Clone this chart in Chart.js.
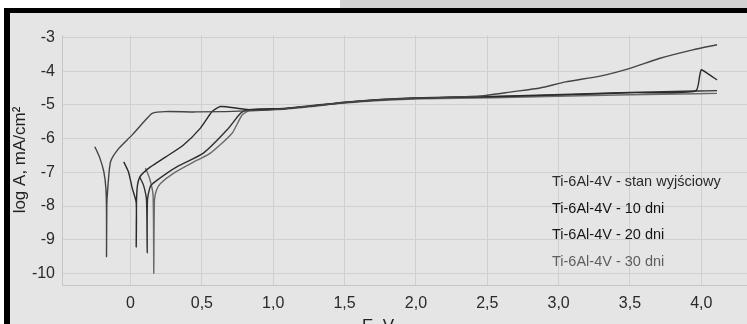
<!DOCTYPE html>
<html>
<head>
<meta charset="utf-8">
<script src="https://cdn.jsdelivr.net/npm/chart.js@4/dist/chart.umd.min.js"></script>
<style>
  html, body { margin: 0; padding: 0; background: #fff; overflow: hidden; }
  #pasek { position: absolute; left: 340px; top: 0; width: 407px; height: 8px; background: #d2d2d2; }
  #ramka { position: absolute; left: 4px; top: 8px; width: 743px; height: 330px;
           border-top: 5px solid #000; border-left: 6px solid #000; background: #e5e5e5; }
  #wykres { position: absolute; left: 0; top: 0; }
</style>
</head>
<body>
<div id="pasek"></div>
<div id="ramka"><canvas id="wykres" width="737" height="340"></canvas></div>
<script>
// dane (E w V, log A)
var serie = ['Ti-6Al-4V - stan wyjściowy', 'Ti-6Al-4V - 10 dni', 'Ti-6Al-4V - 20 dni', 'Ti-6Al-4V - 30 dni'];

var e_stan = [-0.25, -0.217, -0.187, -0.172, -0.168, -0.168, -0.166, -0.161, -0.14, -0.082, 0.012, 0.105, 0.152, 0.245, 0.455, 0.84, 1.07, 1.5, 1.75, 2.05, 2.45, 2.68, 2.87, 3.05, 3.29, 3.5, 3.71, 3.94, 4.11];
var a_stan = [-6.24, -6.55, -6.98, -7.5, -8.2, -9.5, -8.0, -7.58, -6.69, -6.29, -5.89, -5.45, -5.25, -5.20, -5.21, -5.18, -5.12, -4.93, -4.85, -4.80, -4.74, -4.61, -4.50, -4.32, -4.15, -3.92, -3.62, -3.37, -3.22];

var e_10 = [-0.047, -0.014, 0.012, 0.04, 0.04, 0.042, 0.049, 0.07, 0.14, 0.245, 0.371, 0.49, 0.572, 0.63, 0.747, 0.84, 1.07, 1.5, 1.75, 2.05, 2.54, 3.15, 3.5, 3.96, 3.99, 4.0, 4.04, 4.11];
var a_10 = [-6.69, -6.99, -7.47, -7.9, -9.21, -7.9, -7.38, -7.11, -6.84, -6.55, -6.19, -5.69, -5.20, -5.05, -5.10, -5.15, -5.12, -4.93, -4.85, -4.80, -4.76, -4.69, -4.64, -4.59, -4.1, -3.96, -4.06, -4.26];

var e_20 = [0.063, 0.091, 0.112, 0.117, 0.119, 0.14, 0.187, 0.327, 0.511, 0.677, 0.771, 0.817, 0.91, 1.07, 1.5, 1.75, 2.05, 2.54, 3.15, 3.5, 3.96, 4.11];
var a_20 = [-7.13, -7.38, -7.82, -9.39, -7.82, -7.41, -7.23, -6.83, -6.43, -5.74, -5.25, -5.15, -5.12, -5.11, -4.92, -4.84, -4.79, -4.75, -4.68, -4.63, -4.59, -4.58];

var e_30 = [0.105, 0.133, 0.158, 0.163, 0.168, 0.182, 0.21, 0.301, 0.467, 0.56, 0.712, 0.782, 0.841, 0.946, 1.07, 1.5, 1.75, 2.05, 2.54, 3.15, 3.5, 3.96, 4.11];
var a_30 = [-6.87, -7.17, -7.67, -9.99, -7.82, -7.53, -7.33, -7.03, -6.64, -6.43, -5.84, -5.30, -5.15, -5.14, -5.13, -4.95, -4.87, -4.82, -4.79, -4.73, -4.70, -4.67, -4.66];

var xTicks = [0, 0.5, 1.0, 1.5, 2.0, 2.5, 3.0, 3.5, 4.0];
var yTicks = [-3, -4, -5, -6, -7, -8, -9, -10];

var kolory = ['#444444', '#2a2a2a', '#303030', '#6a6a6a'];
var koloryLegendy = ['#2a2a2a', '#111111', '#161616', '#5e5e5e'];

function punkty(e, a) {
    var p = [];
    for (var i = 0; i < e.length; i++) {
        p.push({ x: e[i], y: a[i] });
    }
    return p;
}

var zestawy = [[e_stan, a_stan], [e_10, a_10], [e_20, a_20], [e_30, a_30]].map(function (s, i) {
    return {
        label: serie[i],
        data: punkty(s[0], s[1]),
        borderColor: kolory[i],
        borderWidth: 1.4,
        pointRadius: 0,
        showLine: true,
        tension: 0.2,
        fill: false
    };
});

// legenda i opis osi X rysowane recznie (legenda jest wewnatrz wykresu)
var napisy = {
    id: 'napisy',
    afterDraw: function (chart) {
        var ctx = chart.ctx;
        var area = chart.chartArea;
        ctx.save();
        ctx.font = '14.5px "Liberation Sans", Arial, sans-serif';
        ctx.textBaseline = 'middle';
        ctx.textAlign = 'left';
        chart.data.datasets.forEach(function (ds, i) {
            ctx.fillStyle = koloryLegendy[i];
            ctx.fillText(ds.label, area.left + 490, area.top + 147 + i * 26.7);
        });
        ctx.fillStyle = '#222';
        ctx.font = '17px "Liberation Sans", Arial, sans-serif';
        ctx.textAlign = 'center';
        ctx.fillText('E, V', area.left + 316, area.bottom + 41);
        ctx.restore();
    }
};

new Chart(document.getElementById('wykres'), {
    type: 'scatter',
    data: { datasets: zestawy },
    options: {
        responsive: false,
        animation: false,
        layout: { padding: { top: 22, left: 0, right: 0, bottom: 0 } },
        plugins: {
            legend: { display: false },
            tooltip: { enabled: false }
        },
        scales: {
            x: {
                type: 'linear',
                min: -0.48,
                max: 4.32,
                afterBuildTicks: function (scale) {
                    scale.ticks = xTicks.map(function (v) { return { value: v }; });
                },
                afterFit: function (scale) { scale.height = 68; },
                ticks: {
                    padding: 9,
                    color: '#2a2a2a',
                    font: { family: '"Liberation Sans", Arial, sans-serif', size: 16 },
                    maxRotation: 0,
                    callback: function (v) {
                        return v === 0 ? '0' : v.toFixed(1).replace('.', ',');
                    }
                },
                grid: { color: '#d0d0d0', drawTicks: false },
                border: { color: '#c6c6c6' }
            },
            y: {
                min: -10.34,
                max: -2.93,
                afterBuildTicks: function (scale) {
                    scale.ticks = yTicks.map(function (v) { return { value: v }; });
                },
                afterFit: function (scale) { scale.width = 52; },
                ticks: {
                    padding: 7,
                    color: '#2a2a2a',
                    font: { family: '"Liberation Sans", Arial, sans-serif', size: 16 }
                },
                grid: { color: '#d0d0d0', drawTicks: false },
                border: { color: '#c6c6c6' },
                title: {
                    display: true,
                    text: 'log A, mA/cm²',
                    color: '#222',
                    padding: { top: 0, bottom: 0 },
                    font: { family: '"Liberation Sans", Arial, sans-serif', size: 17 }
                }
            }
        }
    },
    plugins: [napisy]
});
</script>
</body>
</html>
